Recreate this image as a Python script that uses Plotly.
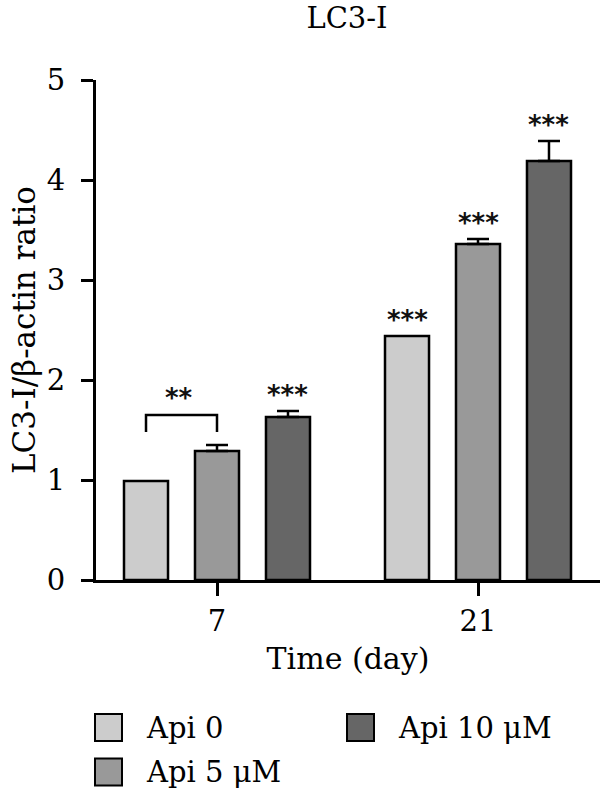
import plotly.graph_objects as go

# ---------------- data ----------------
days = ["7", "21"]
series_names = ["Api 0", "Api 5 μM", "Api 10 μM"]
api0 = [0.99, 2.44]
api5 = [1.29, 3.36]
api10 = [1.63, 4.19]
err0 = [0.0, 0.0]
err5 = [0.06, 0.05]
err10 = [0.06, 0.20]
sig0 = ["", "***"]
sig5 = ["", "***"]
sig10 = ["***", "***"]
colors = ["#cccccc", "#999999", "#666666"]

values = [api0, api5, api10]
errors = [err0, err5, err10]
sigs = [sig0, sig5, sig10]

FONT = "DejaVu Serif"
W, H = 600, 789
ML, MR, MT, MB = 96, 0, 80, 209
PW = W - ML - MR
PH = H - MT - MB

def px2paper_x(px):
    return (px - ML) / PW

def py2paper_y(py):
    return (H - MB - py) / PH

BARGAP = 0.184
BARGROUPGAP = 0.38
step = (1 - BARGAP) / 3  # distance between bar centres within a group

fig = go.Figure()
for k, name in enumerate(series_names):
    has_err = any(e > 0 for e in errors[k])
    fig.add_trace(go.Bar(
        x=days, y=values[k], name=name,
        marker=dict(color=colors[k], line=dict(color="black", width=2.5)),
        error_y=dict(type="data", array=errors[k], arrayminus=[0] * len(days),
                     symmetric=False, color="black", thickness=2.5, width=11,
                     visible=has_err),
        showlegend=False,
    ))

annotations = []
shapes = []
STAR_FONT = dict(family="DejaVu Sans", size=26, color="#111111")

# significance stars
for k in range(3):
    for i, d in enumerate(days):
        s = sigs[k][i]
        if s:
            annotations.append(dict(
                x=i + (k - 1) * step, y=values[k][i] + errors[k][i] + 0.16,
                xref="x", yref="y", text="<b>" + s + "</b>", showarrow=False,
                font=STAR_FONT, xanchor="center", yanchor="middle"))

# bracket between Api 0 and Api 5 at day 7
bx0 = 0 + (0 - 1) * step
bx1 = 0 + (1 - 1) * step
btop = 1.65
bbot = 1.48
shapes.append(dict(type="path", xref="x", yref="y",
                   path=f"M {bx0},{bbot} L {bx0},{btop} L {bx1},{btop} L {bx1},{bbot}",
                   line=dict(color="black", width=2.5)))
annotations.append(dict(x=(bx0 + bx1) / 2 - 0.01, y=1.82, xref="x", yref="y",
                        text="<b>**</b>", showarrow=False, font=STAR_FONT,
                        xanchor="center", yanchor="middle"))

# custom legend
legend_pos = [(95, 727.5), (95, 772), (347, 727.5)]
SQ = 27
for k, name in enumerate(series_names):
    lx, ly = legend_pos[k]
    shapes.append(dict(type="rect", xref="paper", yref="paper",
                       x0=px2paper_x(lx), x1=px2paper_x(lx + SQ),
                       y0=py2paper_y(ly + SQ / 2), y1=py2paper_y(ly - SQ / 2),
                       fillcolor=colors[k], line=dict(color="black", width=2)))
    annotations.append(dict(x=px2paper_x(lx + SQ + 22), y=py2paper_y(ly),
                            xref="paper", yref="paper", text=name, showarrow=False,
                            xanchor="left", yanchor="middle",
                            font=dict(family=FONT, size=29, color="black")))

fig.update_layout(
    width=W, height=H,
    margin=dict(l=ML, r=MR, t=MT, b=MB, pad=0),
    plot_bgcolor="white", paper_bgcolor="white",
    barmode="group", bargap=BARGAP, bargroupgap=BARGROUPGAP,
    font=dict(family=FONT, size=29, color="black"),
    title=dict(text="LC3-I", x=347 / W, xanchor="center", y=1 - 18 / H,
               yanchor="middle", font=dict(family=FONT, size=29, color="black")),
    annotations=annotations,
    shapes=shapes,
)
fig.update_xaxes(
    type="category", range=[(ML - 217) / 261, (W - 217) / 261],
    showline=True, linecolor="black", linewidth=3,
    ticks="outside", ticklen=13, tickwidth=3, tickcolor="black",
    tickfont=dict(family=FONT, size=29), showgrid=False,
    title=dict(text="Time (day)", font=dict(family=FONT, size=30), standoff=12),
)
fig.update_yaxes(
    range=[0, 5], dtick=1, tick0=0,
    showline=True, linecolor="black", linewidth=3,
    ticks="outside", ticklen=12, tickwidth=3, tickcolor="black",
    tickfont=dict(family=FONT, size=29), showgrid=False, zeroline=False,
    ticklabelstandoff=10,
    title=dict(text="LC3-I/β-actin ratio", font=dict(family=FONT, size=31), standoff=2),
)

fig.write_html("out.html")
